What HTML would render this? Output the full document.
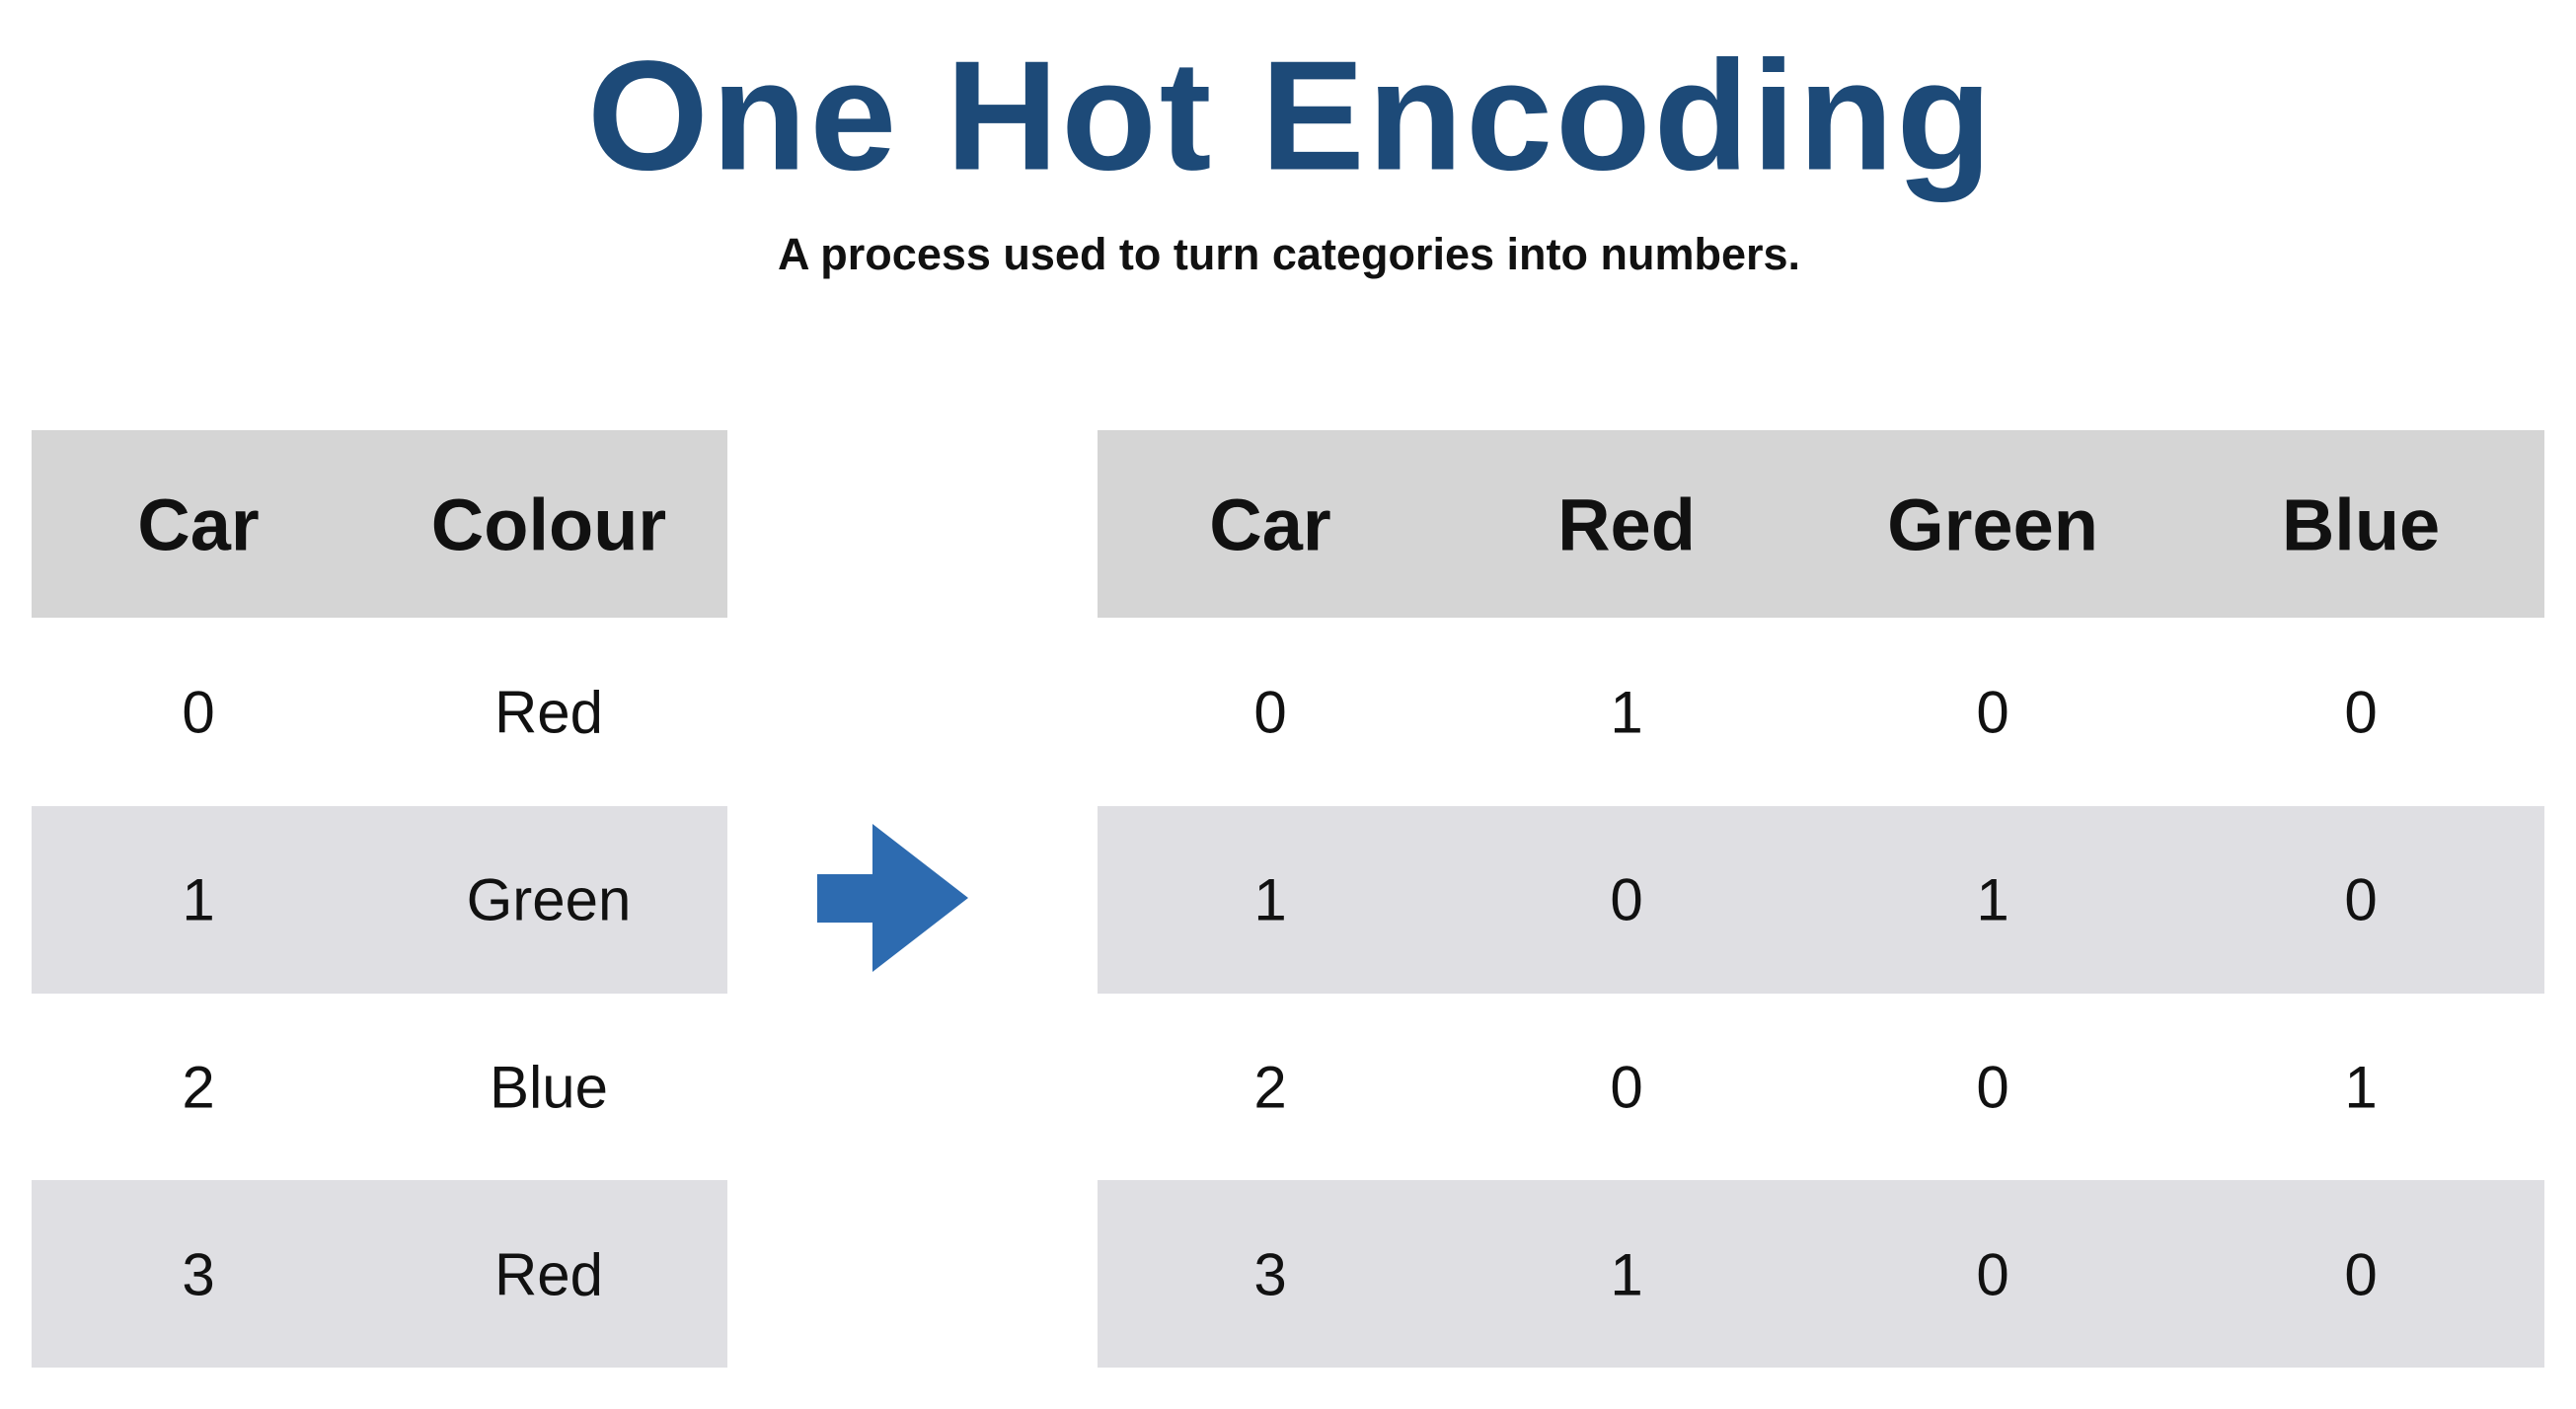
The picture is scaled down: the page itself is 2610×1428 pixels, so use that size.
<!DOCTYPE html>
<html><head><meta charset="utf-8"><style>
body{margin:0;width:2610px;height:1428px;background:#fff;position:relative;overflow:hidden;font-family:"Liberation Sans",sans-serif}
.a{position:absolute}
.t{position:absolute;transform:translate(-50%,-50%);white-space:nowrap;color:#111}
.h{font-weight:bold;font-size:74px}
.c{font-size:60px}
</style></head><body>
<div class="t" style="left:1308px;top:118px;font-size:158px;font-weight:bold;color:#1d4a78;letter-spacing:3px">One Hot Encoding</div>
<div class="t" style="left:1306px;top:258px;font-size:45px;font-weight:bold">A process used to turn categories into numbers.</div>

<div class="a" style="left:32px;top:436px;width:705px;height:950px">
 <div class="a" style="left:0;top:0;width:705px;height:190px;background:#d5d5d5"></div>
 <div class="a" style="left:0;top:381px;width:705px;height:190px;background:#dfdfe3"></div>
 <div class="a" style="left:0;top:760px;width:705px;height:190px;background:#dfdfe3"></div>
</div>
<div class="a" style="left:1112px;top:436px;width:1466px;height:950px">
 <div class="a" style="left:0;top:0;width:1466px;height:190px;background:#d5d5d5"></div>
 <div class="a" style="left:0;top:381px;width:1466px;height:190px;background:#dfdfe3"></div>
 <div class="a" style="left:0;top:760px;width:1466px;height:190px;background:#dfdfe3"></div>
</div>

<svg class="a" style="left:0;top:0" width="2610" height="1428"><polygon fill="#2d6bb0" points="828,886 884,886 884,835 981,910 884,985 884,935 828,935"/></svg>

<div id="cells"></div>
<script>
const leftHead=["Car","Colour"];
const leftRows=[["0","Red"],["1","Green"],["2","Blue"],["3","Red"]];
const rightHead=["Car","Red","Green","Blue"];
const rightRows=[["0","1","0","0"],["1","0","1","0"],["2","0","0","1"],["3","1","0","0"]];
const leftX=[201,556], rightX=[1287,1648,2019,2392];
const headY=532, rowY0=722, rowH=190;
const root=document.getElementById('cells');
function cell(txt,x,y,cls,name){const d=document.createElement('div');d.className='t '+cls;d.style.left=x+'px';d.style.top=y+'px';d.textContent=txt;


root.appendChild(d);}
leftHead.forEach((h,i)=>cell(h,leftX[i],headY,'h','left-header-cell'));
leftRows.forEach((r,j)=>r.forEach((v,i)=>cell(v,leftX[i],rowY0+j*rowH,'c','left-cell')));
rightHead.forEach((h,i)=>cell(h,rightX[i],headY,'h','right-header-cell'));
rightRows.forEach((r,j)=>r.forEach((v,i)=>cell(v,rightX[i],rowY0+j*rowH,'c','right-cell')));
</script>
</body></html>
